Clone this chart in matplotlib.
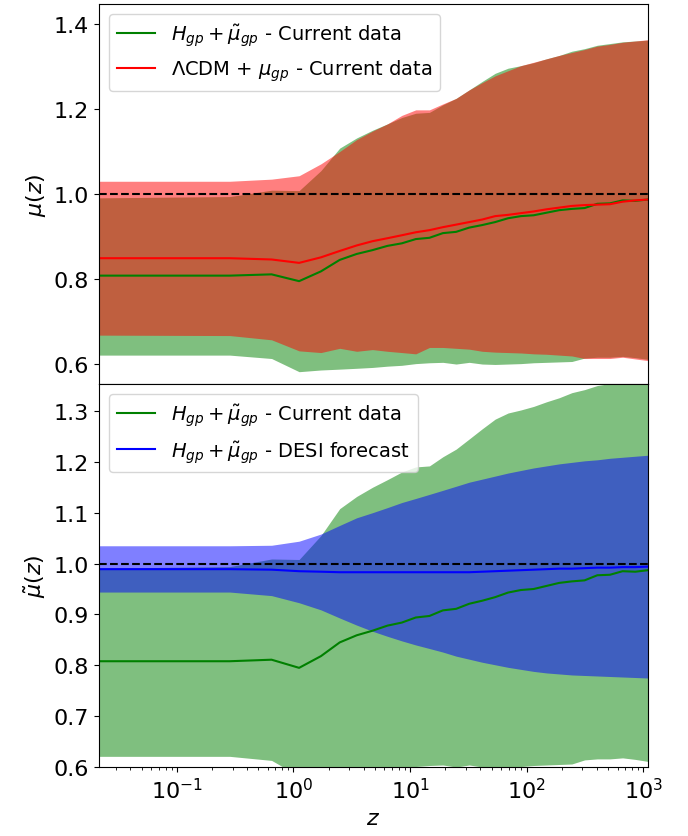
import matplotlib
matplotlib.use("Agg")
import matplotlib.pyplot as plt

# redshift grid (first point stands in for z ~ 0 on the log axis)
z = [0.0215, 0.284, 0.649, 1.117, 1.718, 2.490, 3.482, 4.755, 6.389, 8.488,
     11.18, 14.64, 19.09, 24.79, 32.12, 41.52, 53.60, 69.11, 89.02, 114.6,
     147.4, 189.6, 243.7, 313.2, 402.4, 516.6, 663.3, 851.7, 1095.6]

# H_gp + mu_gp, current data
mu_gp_cur = [0.808, 0.808, 0.811, 0.795, 0.818, 0.845, 0.859, 0.868, 0.878, 0.884,
             0.894, 0.897, 0.908, 0.911, 0.921, 0.927, 0.934, 0.943, 0.948, 0.950,
             0.956, 0.962, 0.965, 0.967, 0.977, 0.978, 0.985, 0.984, 0.987]
mu_gp_cur_hi = [0.991, 0.994, 1.009, 1.008, 1.055, 1.108, 1.132, 1.150, 1.165, 1.180,
                1.190, 1.192, 1.210, 1.225, 1.245, 1.265, 1.284, 1.296, 1.302, 1.309,
                1.318, 1.326, 1.336, 1.342, 1.350, 1.354, 1.358, 1.360, 1.362]
mu_gp_cur_lo = [0.621, 0.621, 0.613, 0.582, 0.586, 0.588, 0.590, 0.592, 0.595, 0.597,
                0.601, 0.603, 0.604, 0.600, 0.604, 0.600, 0.599, 0.600, 0.601, 0.603,
                0.604, 0.605, 0.606, 0.614, 0.616, 0.616, 0.618, 0.615, 0.611]

# LCDM + mu_gp, current data
lcdm_mu = [0.849, 0.849, 0.846, 0.838, 0.851, 0.866, 0.879, 0.889, 0.896, 0.903,
           0.910, 0.915, 0.922, 0.928, 0.934, 0.940, 0.948, 0.951, 0.955, 0.959,
           0.964, 0.968, 0.972, 0.974, 0.975, 0.976, 0.982, 0.985, 0.987]
lcdm_hi = [1.030, 1.030, 1.035, 1.043, 1.071, 1.100, 1.128, 1.148, 1.165, 1.185,
           1.198, 1.198, 1.212, 1.225, 1.245, 1.262, 1.278, 1.290, 1.302, 1.310,
           1.318, 1.326, 1.333, 1.340, 1.348, 1.352, 1.357, 1.360, 1.363]
lcdm_lo = [0.668, 0.667, 0.657, 0.631, 0.627, 0.637, 0.630, 0.634, 0.630, 0.627,
           0.624, 0.639, 0.639, 0.637, 0.635, 0.630, 0.628, 0.627, 0.626, 0.624,
           0.623, 0.621, 0.619, 0.613, 0.613, 0.613, 0.616, 0.612, 0.608]

# H_gp + mu_gp, DESI forecast
desi_mu = [0.989, 0.989, 0.988, 0.985, 0.984, 0.983, 0.983, 0.983, 0.983, 0.983,
           0.983, 0.983, 0.983, 0.983, 0.983, 0.984, 0.985, 0.986, 0.987, 0.988,
           0.989, 0.990, 0.990, 0.991, 0.992, 0.992, 0.993, 0.993, 0.994]
desi_hi = [1.035, 1.035, 1.036, 1.044, 1.058, 1.075, 1.090, 1.100, 1.110, 1.120,
           1.128, 1.136, 1.144, 1.152, 1.160, 1.166, 1.172, 1.178, 1.183, 1.188,
           1.192, 1.196, 1.199, 1.202, 1.204, 1.207, 1.209, 1.211, 1.213]
desi_lo = [0.944, 0.944, 0.937, 0.923, 0.909, 0.893, 0.879, 0.867, 0.857, 0.848,
           0.840, 0.833, 0.826, 0.818, 0.812, 0.806, 0.801, 0.796, 0.792, 0.788,
           0.785, 0.783, 0.781, 0.780, 0.779, 0.778, 0.777, 0.776, 0.775]

fig = plt.figure(figsize=(6.88, 8.37), dpi=100)
ax1 = fig.add_axes([0.1439, 0.5400, 0.7980, 0.4540])
ax2 = fig.add_axes([0.1439, 0.0824, 0.7980, 0.4576], sharex=ax1)

lab_cur = r'$H_{gp} + \tilde{\mu}_{gp}$ - Current data'

# top panel
ax1.fill_between(z, mu_gp_cur_lo, mu_gp_cur_hi, color='green', alpha=0.5, lw=0)
ax1.fill_between(z, lcdm_lo, lcdm_hi, color='red', alpha=0.5, lw=0)
ax1.plot(z, mu_gp_cur, color='green', lw=1.5, label=lab_cur)
ax1.plot(z, lcdm_mu, color='red', lw=1.5, label=r'$\Lambda$CDM + $\mu_{gp}$ - Current data')
ax1.axhline(1.0, color='k', ls='--', lw=1.5)
ax1.set_ylim(0.553, 1.447)
ax1.set_yticks([0.6, 0.8, 1.0, 1.2, 1.4])
ax1.set_ylabel(r'$\mu(z)$', fontsize=16)
ax1.legend(loc='upper left', fontsize=14)
ax1.tick_params(labelsize=16, labelbottom=False)

# bottom panel
ax2.fill_between(z, mu_gp_cur_lo, mu_gp_cur_hi, color='green', alpha=0.5, lw=0)
ax2.fill_between(z, desi_lo, desi_hi, color='blue', alpha=0.5, lw=0)
ax2.plot(z, mu_gp_cur, color='green', lw=1.5, label=lab_cur)
ax2.plot(z, desi_mu, color='blue', lw=1.5, label=r'$H_{gp} + \tilde{\mu}_{gp}$ - DESI forecast')
ax2.axhline(1.0, color='k', ls='--', lw=1.5)
ax2.set_ylim(0.6, 1.353)
ax2.set_yticks([0.6, 0.7, 0.8, 0.9, 1.0, 1.1, 1.2, 1.3])
ax2.set_ylabel(r'$\tilde{\mu}(z)$', fontsize=16)
ax2.set_xlabel(r'$z$', fontsize=16)
ax2.legend(loc='upper left', fontsize=14)
ax2.tick_params(labelsize=16)

ax2.set_xscale('log')
ax2.set_xlim(z[0], z[-1])

fig.savefig('out.png', dpi=100)
